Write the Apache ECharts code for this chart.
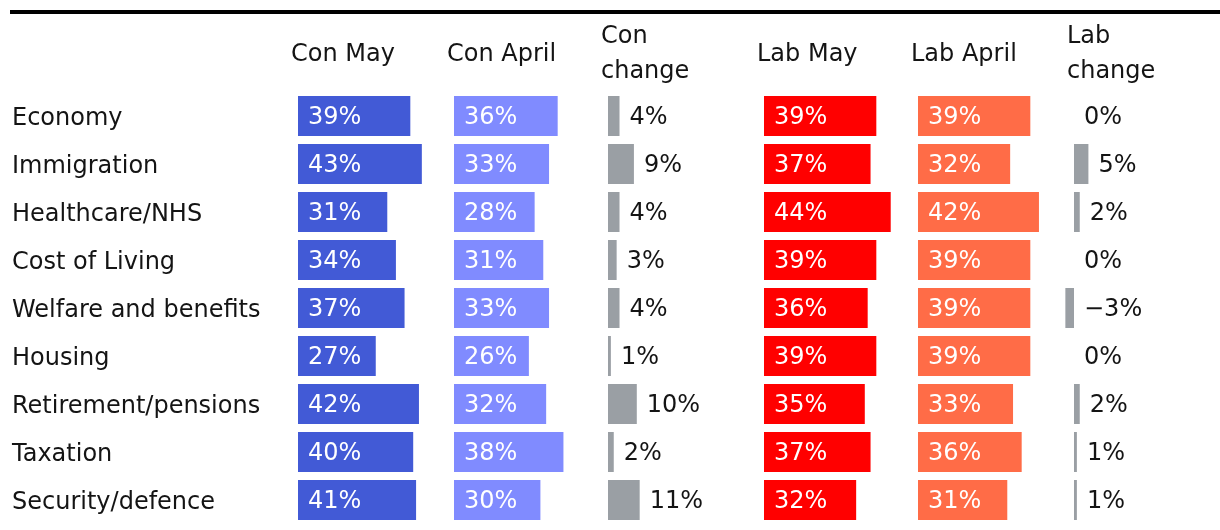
<!DOCTYPE html>
<html><head><meta charset="utf-8">
<script src="https://cdn.jsdelivr.net/npm/echarts@6/dist/echarts.min.js"></script>
<style>html,body{margin:0;padding:0;background:#fff}#c{width:1220px;height:530px}</style>
</head><body><div id="c"></div>
<script>
const categories = ["Economy","Immigration","Healthcare/NHS","Cost of Living","Welfare and benefits","Housing","Retirement/pensions","Taxation","Security/defence"];
const headers = ["Con May","Con April","Con\nchange","Lab May","Lab April","Lab\nchange"];
const conMay   = [39,43,31,34,37,27,42,40,41];
const conApril = [36,33,28,31,33,26,32,38,30];
const conChange= [4,9,4,3,4,1,10,2,11];
const labMay   = [39,37,44,39,36,39,35,37,32];
const labApril = [39,32,42,39,39,39,33,36,31];
const labChange= [0,5,2,0,-3,0,2,1,1];

const FONT = '"DejaVu Sans"';
const TXT = '#141414';
const columns = [
  {data: conMay,   color:'#425ad6', inside:true},
  {data: conApril, color:'#808bff', inside:true},
  {data: conChange,color:'#9a9fa4', inside:false},
  {data: labMay,   color:'#ff0000', inside:true},
  {data: labApril, color:'#ff6c47', inside:true},
  {data: labChange,color:'#9a9fa4', inside:false}
];
const colStart = [298,454,608,764,918,1074];
const PX = 2.88;
const grids=[], xAxes=[], yAxes=[], series=[], graphics=[];
columns.forEach((col,i)=>{
  const min = (i===5) ? -5 : 0;
  const max = min + 50;
  grids.push({left: colStart[i] + min*PX, top: 92, width: 50*PX, height: 432});
  xAxes.push({type:'value', gridIndex:i, min:min, max:max, show:false});
  yAxes.push({type:'category', gridIndex:i, data:categories, inverse:true,
    axisLine:{show:false}, axisTick:{show:false}, splitLine:{show:false},
    axisLabel: i===0 ? {show:true, align:'left', margin:286, formatter:'{a|{value}}',
      rich:{a:{fontFamily:FONT, fontSize:24, color:TXT, padding:[6,0,0,0]}}} : {show:false}});
  series.push({
    type:'custom', xAxisIndex:i, yAxisIndex:i,
    data: col.data.map((v,k)=>[v,k]),
    renderItem: function(params, api){
      const v = api.value(0), k = api.value(1);
      const p0 = api.coord([0,k]);
      const p1 = api.coord([v,k]);
      const band = api.size([0,1])[1];
      const h = band*40/48;
      const x0 = Math.min(p0[0],p1[0]), w = Math.abs(p1[0]-p0[0]);
      const children = [];
      if (w>0) children.push({type:'rect', shape:{x:x0, y:p0[1]-h/2, width:w, height:h}, style:{fill:col.color}});
      const label = v + '%';
      const lx = col.inside ? p0[0]+10 : Math.max(p0[0],p1[0]) + 10;
      children.push({type:'text', x: lx, y: p0[1]+2, style:{text: label.replace('-','\u2212'), fill: col.inside ? '#ffffff' : TXT,
        font: '24px ' + FONT, textAlign:'left', textVerticalAlign:'middle'}});
      return {type:'group', children: children};
    }
  });
  graphics.push({type:'text', left: colStart[i]-7, top: (headers[i].indexOf('\n')>=0 ? 19 : 37),
    style:{text: headers[i], font:'24px '+FONT, fill:TXT, lineHeight:35}});
});
graphics.push({type:'rect', shape:{x:10, y:10, width:1210, height:4}, style:{fill:'#000'}});

const chart = echarts.init(document.getElementById('c'));
chart.setOption({
  animation:false,
  grid: grids, xAxis: xAxes, yAxis: yAxes, series: series, graphic: graphics
});
</script></body></html>
